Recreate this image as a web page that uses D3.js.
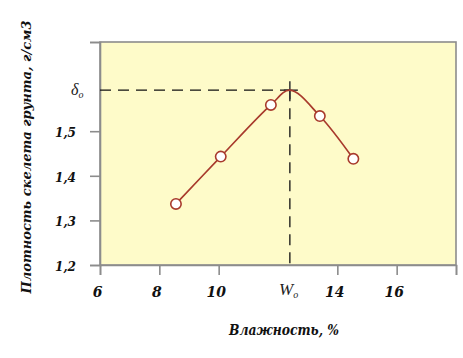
<!DOCTYPE html>
<html><head><meta charset="utf-8">
<script src="https://cdn.jsdelivr.net/npm/d3@7"></script>
<style>body{margin:0;background:#fff}svg{display:block}</style>
</head><body>
<svg id="c" width="463" height="358"></svg>
<script>
// data
const moisture = [8.56, 10.07, 11.76, 13.41, 14.54];
const density  = [1.337, 1.443, 1.559, 1.534, 1.438];
const optimumW = 12.4;      // W0
const optimumD = 1.592;     // δ0
const xTicks = [6, 8, 10, 14, 16, 18];
const xTickLabels = ["6", "8", "10", "14", "16", ""];
const yTicks = [1.2, 1.3, 1.4, 1.5, 1.7];
const yTickLabels = ["1,2", "1,3", "1,4", "1,5", ""];

const svg = d3.select("#c");
const x = d3.scaleLinear().domain([6, 18]).range([100, 456]);
const y = d3.scaleLinear().domain([1.2, 1.7]).range([265, 42]);
const font = "'DejaVu Serif', serif";
const frameColor = "#8c8c8c";

// plot background
svg.append("rect").attr("x", x(6)).attr("y", y(1.7))
  .attr("width", x(18) - x(6)).attr("height", y(1.2) - y(1.7))
  .attr("fill", "#fefbc9").attr("stroke", frameColor).attr("stroke-width", 1.6);

// axes
const xAxis = svg.append("g").attr("transform", `translate(0,${y(1.2)})`)
  .call(d3.axisBottom(x).tickValues(xTicks).tickSize(10).tickPadding(12)
    .tickFormat((d, i) => xTickLabels[i]));
const yAxis = svg.append("g").attr("transform", `translate(${x(6)},0)`)
  .call(d3.axisLeft(y).tickValues(yTicks).tickSize(10).tickPadding(14)
    .tickFormat((d, i) => yTickLabels[i]));
[xAxis, yAxis].forEach(g => {
  g.select(".domain").attr("stroke", frameColor).attr("stroke-width", 1.6);
  g.selectAll(".tick line").attr("stroke", frameColor).attr("stroke-width", 1.6);
  g.selectAll(".tick text").attr("fill", "#111").attr("font-family", font)
    .attr("font-weight", "bold").attr("font-style", "italic");
});
xAxis.selectAll(".tick text").attr("font-size", 14).attr("dx", -3);
yAxis.selectAll(".tick text").attr("font-size", 13).attr("dy", "0.4em")
  .attr("textLength", 21).attr("lengthAdjust", "spacingAndGlyphs");

// dashed guide lines
svg.append("line").attr("x1", x(6)).attr("x2", x(optimumW))
  .attr("y1", y(optimumD)).attr("y2", y(optimumD))
  .attr("stroke", "#111").attr("stroke-width", 1.3).attr("stroke-dasharray", "11,7");
svg.append("line").attr("x1", x(optimumW)).attr("x2", x(optimumW))
  .attr("y1", y(optimumD)).attr("y2", y(1.2))
  .attr("stroke", "#111").attr("stroke-width", 1.3).attr("stroke-dasharray", "11,7");
// cross at optimum
svg.append("line").attr("x1", x(optimumW) - 6).attr("x2", x(optimumW) + 8)
  .attr("y1", y(optimumD)).attr("y2", y(optimumD)).attr("stroke", "#333").attr("stroke-width", 1.5);
svg.append("line").attr("x1", x(optimumW)).attr("x2", x(optimumW))
  .attr("y1", y(optimumD) - 9).attr("y2", y(optimumD) + 9).attr("stroke", "#333").attr("stroke-width", 1.5);

// curve
const pts = moisture.map((m, i) => [m, density[i]]);
const curvePts = [pts[0], pts[1], pts[2], [optimumW, optimumD], pts[3], pts[4]];
const line = d3.line().x(d => x(d[0])).y(d => y(d[1])).curve(d3.curveCatmullRom.alpha(0.5));
svg.append("path").datum(curvePts).attr("d", line)
  .attr("fill", "none").attr("stroke", "#a83a2c").attr("stroke-width", 1.7);
svg.selectAll("circle.pt").data(pts).join("circle").attr("class", "pt")
  .attr("cx", d => x(d[0])).attr("cy", d => y(d[1])).attr("r", 5.2)
  .attr("fill", "#fff").attr("stroke", "#a83a2c").attr("stroke-width", 1.6);

// δ0 and W0 labels
const d0 = svg.append("text").attr("x", 71).attr("y", y(optimumD) + 5)
  .attr("font-family", "'Liberation Serif', serif").attr("font-style", "italic")
  .attr("font-size", 16).attr("fill", "#222");
d0.append("tspan").text("δ");
d0.append("tspan").attr("font-size", 10).attr("dy", 3).text("o");
const w0 = svg.append("text").attr("x", 279).attr("y", 295)
  .attr("font-family", "'Liberation Serif', serif").attr("font-style", "italic")
  .attr("font-size", 17).attr("fill", "#222");
w0.append("tspan").text("W");
w0.append("tspan").attr("font-size", 10).attr("dy", 3).text("o");

// axis titles
svg.append("text").attr("x", 284).attr("y", 335).attr("text-anchor", "middle")
  .attr("font-family", font).attr("font-weight", "bold").attr("font-style", "italic")
  .attr("font-size", 14).attr("fill", "#111")
  .attr("textLength", 110).attr("lengthAdjust", "spacingAndGlyphs").text("Влажность, %");
svg.append("text").attr("transform", "translate(31,157) rotate(-90)").attr("text-anchor", "middle")
  .attr("font-family", font).attr("font-weight", "bold").attr("font-style", "italic")
  .attr("font-size", 13.5).attr("fill", "#111")
  .attr("textLength", 273).attr("lengthAdjust", "spacingAndGlyphs").text("Плотность скелета грунта, г/см3");
</script>
</body></html>
